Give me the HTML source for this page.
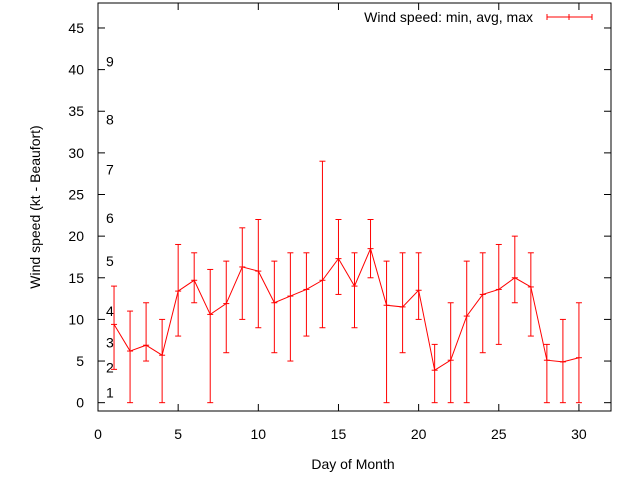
<!DOCTYPE html>
<html><head><meta charset="utf-8"><style>
body{margin:0;background:#fff}
text{font-family:"Liberation Sans",sans-serif;font-size:14px;fill:#000}
</style></head><body>
<svg id="c" width="640" height="480"></svg>
<script>
const days=[1,2,3,4,5,6,7,8,9,10,11,12,13,14,15,16,17,18,19,20,21,22,23,24,25,26,27,28,29,30];
const avgs=[9.4,6.2,6.9,5.7,13.4,14.7,10.6,11.9,16.3,15.8,12,12.8,13.6,14.7,17.3,14.0,18.5,11.7,11.5,13.5,3.9,5.1,10.4,13.0,13.6,15.0,13.9,5.1,4.9,5.4];
const mins=[4,0,5,0,8,12,0,6,10,9,6,5,8,9,13,9,15,0,6,10,0,0,0,6,7,12,8,0,0,0];
const maxs=[14,11,12,10,19,18,16,17,21,22,17,18,18,29,22,18,22,17,18,18,7,12,17,18,19,20,18,7,10,12];
const yTicks=[0,5,10,15,20,25,30,35,40,45];
const xTicks=[0,5,10,15,20,25,30];
const bftLabels=["1","2","3","4","5","6","7","8","9"];
const bftVals=[1.2,4.2,7.2,11.0,17.0,22.2,28.0,34.0,41.0];
const NS="http://www.w3.org/2000/svg",svg=document.getElementById('c');
const L=98,R=611,T=3,B=411,x0=0,x1=32,y0=-1,y1=48;
const X=v=>L+(v-x0)/(x1-x0)*(R-L), Y=v=>B-(v-y0)/(y1-y0)*(B-T);
function mk(t,a,p){const e=document.createElementNS(NS,t);for(const k in a)e.setAttribute(k,a[k]);(p||svg).appendChild(e);return e;}
const fr=mk('rect',{x:L,y:T,width:R-L,height:B-T,fill:'none',stroke:'#000','stroke-width':1});


yTicks.forEach(v=>{const y=Y(v);
 mk('line',{x1:L,x2:L+7,y1:y,y2:y,stroke:'#000'});mk('line',{x1:R,x2:R-7,y1:y,y2:y,stroke:'#000'});
 const t=mk('text',{x:84,y:y+5,'text-anchor':'end'});t.textContent=v;
 
 });
xTicks.forEach(v=>{const x=X(v);
 mk('line',{x1:x,x2:x,y1:B,y2:B-7,stroke:'#000'});mk('line',{x1:x,x2:x,y1:T,y2:T+7,stroke:'#000'});
 const t=mk('text',{x:x,y:439,'text-anchor':'middle'});t.textContent=v;
 
 });
bftLabels.forEach((s,i)=>{const t=mk('text',{x:106,y:Y(bftVals[i])+5});t.textContent=s;
 
 });
const xl=mk('text',{x:353,y:469,'text-anchor':'middle'});xl.textContent='Day of Month';


const yl=mk('text',{x:0,y:0,'text-anchor':'middle',transform:'translate(40,207) rotate(-90)'});yl.textContent='Wind speed (kt - Beaufort)';


const red='#f00';
days.forEach((d,i)=>{const x=X(d),g=mk('g',{stroke:red,'stroke-width':1});
 
 
 mk('line',{x1:x,x2:x,y1:Y(mins[i]),y2:Y(maxs[i])},g);
 mk('line',{x1:x-3,x2:x+3,y1:Y(mins[i]),y2:Y(mins[i])},g);
 mk('line',{x1:x-3,x2:x+3,y1:Y(maxs[i]),y2:Y(maxs[i])},g);
 mk('line',{x1:x-3,x2:x+3,y1:Y(avgs[i]),y2:Y(avgs[i])},g);});
const pl=mk('polyline',{points:days.map((d,i)=>X(d)+','+Y(avgs[i])).join(' '),fill:'none',stroke:red,'stroke-width':1});


const lt=mk('text',{x:533,y:22,'text-anchor':'end'});lt.textContent='Wind speed: min, avg, max';


const lg=mk('g',{stroke:red});


mk('line',{x1:547,x2:592,y1:17,y2:17},lg);mk('line',{x1:547,x2:547,y1:14,y2:20},lg);
mk('line',{x1:592,x2:592,y1:14,y2:20},lg);mk('line',{x1:569,x2:569,y1:14,y2:20},lg);
</script></body></html>
